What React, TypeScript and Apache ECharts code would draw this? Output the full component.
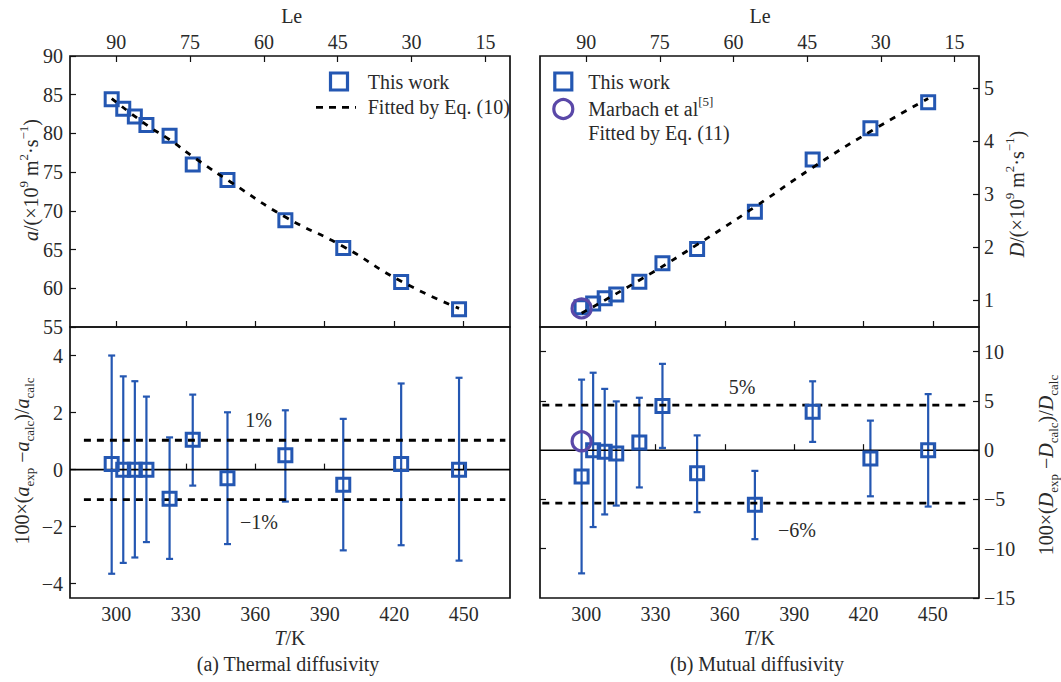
import React, { useEffect, useRef } from "react";
import * as echarts from "echarts";

// ---------- data ----------
const T = [298, 303, 308, 313, 323, 333, 348, 373, 398, 423, 448];
const aExp = [84.4, 83.2, 82.2, 81.1, 79.7, 76.0, 74.0, 68.8, 65.2, 60.8, 57.3];
const fitTa = [298, 314, 322, 335, 350, 373, 398, 423, 448];
const fitA = [84.5, 80.9, 79.4, 76.6, 73.6, 69.2, 65.4, 60.9, 57.4];
const aDev = [0.2, 0, 0, 0, -1.02, 1.05, -0.3, 0.5, -0.53, 0.2, 0];
const aErrHi = [4.0, 3.27, 3.1, 2.56, 1.13, 2.63, 2.01, 2.08, 1.78, 3.02, 3.22];
const aErrLo = [-3.65, -3.27, -3.08, -2.54, -3.13, -0.56, -2.61, -1.12, -2.83, -2.65, -3.19];

const DExp = [0.87, 0.94, 1.04, 1.11, 1.35, 1.7, 1.97, 2.67, 3.65, 4.24, 4.73];
const marbachT = [298];
const marbachD = [0.85];
const marbachDev = [0.9];
const fitTD = [298, 323, 348, 373, 398, 423, 448];
const fitD = [0.76, 1.38, 2.05, 2.76, 3.5, 4.18, 4.8];
const DDev = [-2.68, 0, -0.17, -0.33, 0.77, 4.48, -2.34, -5.55, 3.91, -0.84, 0];
const DErrHi = [7.16, 7.86, 6.22, 4.95, 5.32, 8.76, 1.5, -2.1, 6.99, 3.0, 5.69];
const DErrLo = [-12.5, -7.8, -6.52, -5.62, -3.78, 0.23, -6.29, -9.03, 0.84, -4.68, -5.72];

const aBand = [1.03, -1.05];
const DBand = [4.58, -5.38];

const TTicks = [300, 330, 360, 390, 420, 450];
const LeTicks = [90, 75, 60, 45, 30, 15];
const aTicks = [55, 60, 65, 70, 75, 80, 85, 90];
const aDevTicks = [-4, -2, 0, 2, 4];
const DTicks = [1, 2, 3, 4, 5];
const DDevTicks = [-15, -10, -5, 0, 5, 10];
const DDevInnerTicks = [-10, -5, 5, 10];

// ---------- styles ----------
const BLUE = "#2457b2";
const PURPLE = "#5a48a8";
const TXT = "#2a2a2a";
const FONT = "'Liberation Serif', 'DejaVu Serif', serif";

const minus = (v: number) => String(v).replace("-", "\u2212");

const rich = {
  n: { fontSize: 20, fontFamily: FONT, fill: TXT, color: TXT, lineHeight: 28 },
  i: { fontSize: 20, fontFamily: FONT, fill: TXT, color: TXT, lineHeight: 28, fontStyle: "italic" },
  sup: { fontSize: 13, fontFamily: FONT, fill: TXT, color: TXT, lineHeight: 18, verticalAlign: "top" },
  sub: { fontSize: 13, fontFamily: FONT, fill: TXT, color: TXT, lineHeight: 16, verticalAlign: "bottom" },
};

const txt = (x: number, y: number, text: string, align = "center", rotation = 0) => ({
  type: "text",
  x,
  y,
  rotation,
  silent: true,
  style: {
    text,
    rich,
    fontSize: 20,
    fontFamily: FONT,
    fill: TXT,
    align,
    textAlign: align,
    verticalAlign: "middle",
    textVerticalAlign: "middle",
  },
});

const tickStyle = { color: "#111", width: 1.2 };

function xAxisBase(gridIndex: number, labels: boolean) {
  return {
    type: "value",
    gridIndex,
    min: 280,
    max: 470,
    position: "bottom",
    axisLine: { show: false },
    splitLine: { show: false },
    axisTick: { show: true, inside: true, length: 6, lineStyle: tickStyle, customValues: TTicks },
    axisLabel: labels
      ? { show: true, customValues: TTicks, fontSize: 20, fontFamily: FONT, color: TXT, margin: 6 }
      : { show: false },
  };
}

function leAxis(gridIndex: number) {
  return {
    type: "value",
    gridIndex,
    min: 10,
    max: 99.4,
    inverse: true,
    position: "top",
    axisLine: { show: false },
    splitLine: { show: false },
    axisTick: { show: true, inside: true, length: 6, lineStyle: tickStyle, customValues: LeTicks },
    axisLabel: { show: true, customValues: LeTicks, fontSize: 20, fontFamily: FONT, color: TXT, margin: 4 },
  };
}

function yAxisBase(gridIndex: number, min: number, max: number, ticks: number[], position: string, labels: boolean) {
  return {
    type: "value",
    gridIndex,
    min,
    max,
    position,
    axisLine: { show: false },
    splitLine: { show: false },
    axisTick: { show: true, inside: true, length: 6, lineStyle: tickStyle, customValues: ticks },
    axisLabel: labels
      ? {
          show: true,
          customValues: ticks,
          fontSize: 20,
          fontFamily: FONT,
          color: TXT,
          margin: position === "left" ? 7 : 5,
          formatter: (v: number) => minus(v),
        }
      : { show: false },
  };
}

function errorBars(xi: number, yi: number, data: number[][]) {
  return {
    type: "custom",
    xAxisIndex: xi,
    yAxisIndex: yi,
    data,
    z: 2,
    encode: { x: 0, y: [1, 2] },
    renderItem: (_p: any, api: any) => {
      const x = api.value(0);
      const lo = api.value(1);
      const hi = api.value(2);
      const p1 = api.coord([x, hi]);
      const p2 = api.coord([x, lo]);
      const w = 3.5;
      const style = { stroke: BLUE, lineWidth: 2.2 };
      return {
        type: "group",
        children: [
          { type: "line", shape: { x1: p1[0], y1: p1[1], x2: p2[0], y2: p2[1] }, style },
          { type: "line", shape: { x1: p1[0] - w, y1: p1[1], x2: p1[0] + w, y2: p1[1] }, style },
          { type: "line", shape: { x1: p2[0] - w, y1: p2[1], x2: p2[0] + w, y2: p2[1] }, style },
        ],
      };
    },
  };
}

function squares(xi: number, yi: number, data: number[][]) {
  return {
    type: "scatter",
    xAxisIndex: xi,
    yAxisIndex: yi,
    data,
    symbol: "rect",
    symbolSize: 13,
    z: 4,
    itemStyle: { color: "rgba(0,0,0,0)", borderColor: BLUE, borderWidth: 3, opacity: 1 },
  };
}

function circles(xi: number, yi: number, data: number[][]) {
  return {
    type: "scatter",
    xAxisIndex: xi,
    yAxisIndex: yi,
    data,
    symbol: "circle",
    symbolSize: 19,
    z: 5,
    itemStyle: { color: "rgba(0,0,0,0)", borderColor: PURPLE, borderWidth: 3.2, opacity: 1 },
  };
}

function hline(xi: number, yi: number, x0: number, x1: number, y: number, dashed: boolean) {
  return {
    type: "line",
    xAxisIndex: xi,
    yAxisIndex: yi,
    data: [
      [x0, y],
      [x1, y],
    ],
    showSymbol: false,
    symbol: "none",
    z: 3,
    lineStyle: dashed
      ? { color: "#000", width: 2.8, type: [7, 6] }
      : { color: "#000", width: 1.6, type: "solid" },
  };
}

export default function App() {
  const ref = useRef<HTMLDivElement>(null);

  useEffect(() => {
    document.body.style.margin = "0";
    if (!ref.current) return;
    const chart = echarts.init(ref.current, undefined, { renderer: "svg" });

    const gridCommon = { show: true, borderColor: "#111", borderWidth: 1.7, backgroundColor: "rgba(0,0,0,0)" };

    const option: any = {
      animation: false,
      backgroundColor: "#fff",
      grid: [
        { ...gridCommon, left: 70, top: 56, width: 440, height: 271 },
        { ...gridCommon, left: 70, top: 327, width: 440, height: 271 },
        { ...gridCommon, left: 540, top: 56, width: 439, height: 271 },
        { ...gridCommon, left: 540, top: 327, width: 439, height: 271 },
      ],
      xAxis: [xAxisBase(0, false), leAxis(0), xAxisBase(1, true), xAxisBase(2, false), leAxis(2), xAxisBase(3, true)],
      yAxis: [
        yAxisBase(0, 55, 90, aTicks, "left", true),
        yAxisBase(1, -4.5, 5, aDevTicks, "left", true),
        yAxisBase(2, 0.5, 5.6, DTicks, "right", true),
        yAxisBase(3, -15, 12.5, DDevTicks, "right", true),
        yAxisBase(3, -15, 12.5, DDevInnerTicks, "left", false),
      ],
      series: [
        // (a) top
        squares(0, 0, T.map((t, i) => [t, aExp[i]])),
        {
          type: "line",
          xAxisIndex: 0,
          yAxisIndex: 0,
          data: fitTa.map((t, i) => [t, fitA[i]]),
          smooth: true,
          showSymbol: false,
          symbol: "none",
          z: 5,
          lineStyle: { color: "#000", width: 2.8, type: [6, 7] },
        },
        // (a) bottom
        hline(2, 1, 280, 470, 0, false),
        hline(2, 1, 286, 468, aBand[0], true),
        hline(2, 1, 286, 468, aBand[1], true),
        errorBars(2, 1, T.map((t, i) => [t, aErrLo[i], aErrHi[i]])),
        squares(2, 1, T.map((t, i) => [t, aDev[i]])),
        // (b) top
        squares(3, 2, T.map((t, i) => [t, DExp[i]])),
        circles(3, 2, marbachT.map((t, i) => [t, marbachD[i]])),
        {
          type: "line",
          xAxisIndex: 3,
          yAxisIndex: 2,
          data: fitTD.map((t, i) => [t, fitD[i]]),
          smooth: true,
          showSymbol: false,
          symbol: "none",
          z: 5,
          lineStyle: { color: "#000", width: 2.8, type: [6, 7] },
        },
        // (b) bottom
        hline(5, 3, 280, 470, 0, false),
        hline(5, 3, 281, 465, DBand[0], true),
        hline(5, 3, 281, 465, DBand[1], true),
        errorBars(5, 3, T.map((t, i) => [t, DErrLo[i], DErrHi[i]])),
        squares(5, 3, T.map((t, i) => [t, DDev[i]])),
        circles(5, 3, marbachT.map((t, i) => [t, marbachDev[i]])),
      ],
      graphic: [
        txt(291.7, 16, "{n|Le}"),
        txt(760, 16, "{n|Le}"),
        txt(290, 638, "{i|T}{n|/K}"),
        txt(759.5, 638, "{i|T}{n|/K}"),
        txt(288, 664, "{n|(a) Thermal diffusivity}"),
        txt(757, 664, "{n|(b) Mutual diffusivity}"),
        txt(258.5, 420, "{n|1%}"),
        txt(259, 521.7, "{n|\u22121%}"),
        txt(742, 386.7, "{n|5%}"),
        txt(797, 530, "{n|\u22126%}"),
        txt(31, 180, "{i|a}{n|/(\u00d710}{sup|9}{n| m}{sup|2}{n|\u00b7s}{sup|\u22121}{n|)}", "center", Math.PI / 2),
        txt(22, 461, "{n|100\u00d7(}{i|a}{sub|exp}{n| \u2212}{i|a}{sub|calc}{n|)/}{i|a}{sub|calc}", "center", Math.PI / 2),
        txt(1017, 194, "{i|D}{n|/(\u00d710}{sup|9}{n| m}{sup|2}{n|\u00b7s}{sup|\u22121}{n|)}", "center", Math.PI / 2),
        txt(1046, 465, "{n|100\u00d7(}{i|D}{sub|exp}{n| \u2212}{i|D}{sub|calc}{n|)/}{i|D}{sub|calc}", "center", Math.PI / 2),
        // legend (a)
        {
          type: "rect",
          silent: true,
          shape: { x: 330.5, y: 73, width: 17, height: 17 },
          style: { fill: "none", stroke: BLUE, lineWidth: 3.2 },
        },
        txt(367.7, 81.7, "{n|This work}", "left"),
        {
          type: "line",
          silent: true,
          shape: { x1: 316, y1: 107.3, x2: 356, y2: 107.3 },
          style: { stroke: "#000", lineWidth: 2.8, lineDash: [7, 6] },
        },
        txt(367.7, 107.3, "{n|Fitted by Eq. (10)}", "left"),
        // legend (b)
        {
          type: "rect",
          silent: true,
          shape: { x: 554.8, y: 73, width: 17, height: 17 },
          style: { fill: "none", stroke: BLUE, lineWidth: 3.2 },
        },
        txt(588.3, 81.7, "{n|This work}", "left"),
        {
          type: "circle",
          silent: true,
          shape: { cx: 563.3, cy: 109, r: 9.5 },
          style: { fill: "none", stroke: PURPLE, lineWidth: 3.2 },
        },
        txt(588.3, 109, "{n|Marbach et al}{sup|[5]}", "left"),
        txt(588.3, 133.3, "{n|Fitted by Eq. (11)}", "left"),
      ],
    };

    chart.setOption(option);
    return () => chart.dispose();
  }, []);

  return <div ref={ref} style={{ position: "absolute", left: 0, top: 0, width: 1061, height: 682 }} />;
}
